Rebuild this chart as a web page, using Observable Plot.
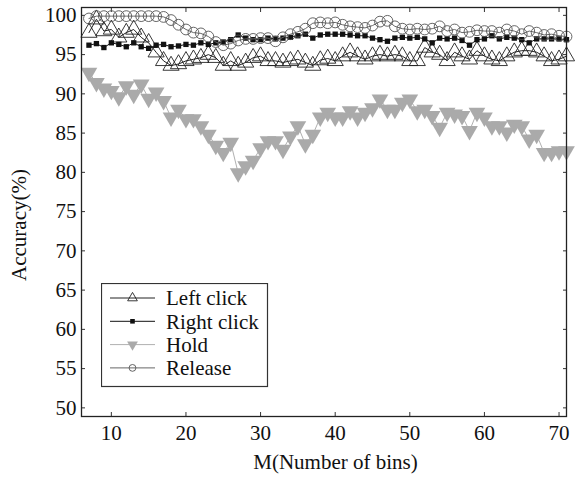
<!DOCTYPE html>
<html><head><meta charset="utf-8">
<script src="https://cdn.jsdelivr.net/npm/d3@7"></script>
<script src="https://cdn.jsdelivr.net/npm/@observablehq/plot@0.6"></script>
<style>
body{margin:0;background:#fff;}
#wrap{position:relative;width:584px;height:477px;font-family:'Liberation Serif','DejaVu Serif',serif;}
#wrap svg text{font-family:'Liberation Serif','DejaVu Serif',serif !important;}
#legend{position:absolute;left:101px;top:283px;}
</style>
</head><body><div id="wrap"></div>
<script>
const bins = [7,8,9,10,11,12,13,14,15,16,17,18,19,20,21,22,23,24,25,26,27,28,29,30,31,32,33,34,35,36,37,38,39,40,41,42,43,44,45,46,47,48,49,50,51,52,53,54,55,56,57,58,59,60,61,62,63,64,65,66,67,68,69,70,71];
const leftClick = [97.8,99.5,98.0,98.2,97.2,97.8,98.2,97.2,96.5,95.3,94.2,93.6,93.8,94.2,94.4,94.6,95.0,94.6,93.6,94.2,93.6,94.0,94.6,94.8,94.2,94.2,94.0,94.2,94.4,94.0,93.6,94.3,94.5,94.2,94.8,95.3,94.8,94.4,94.8,95.0,94.8,95.0,94.8,94.2,94.2,95.9,95.3,95.0,94.2,95.3,94.8,94.4,95.5,94.8,94.4,94.2,94.8,95.3,95.5,95.5,95.3,94.8,94.2,94.4,94.8];
const rightClick = [96.2,96.4,95.9,96.5,96.3,96.0,96.5,96.0,95.8,96.2,96.3,96.0,96.1,96.3,96.2,96.5,96.3,96.5,96.6,96.9,97.5,97.1,96.9,96.9,97.1,97.0,97.1,97.2,97.4,97.6,97.1,97.5,97.6,97.6,97.6,97.5,97.4,97.4,97.1,96.9,96.7,97.1,97.2,97.1,97.2,97.0,96.5,97.1,97.0,97.1,96.8,96.2,96.9,97.0,97.4,97.0,97.2,97.1,96.9,96.5,97.0,97.0,97.0,97.0,96.9];
const hold = [92.7,91.4,90.7,90.4,89.6,91.0,89.9,91.2,89.4,90.2,89.1,87.0,88.0,86.8,86.8,85.9,84.8,83.4,82.5,83.8,79.9,80.8,81.5,83.1,84.0,84.0,82.9,84.6,85.9,83.6,84.8,87.0,87.6,87.0,87.0,87.8,87.0,87.6,88.2,89.3,88.0,88.0,88.9,89.3,87.8,88.0,87.2,85.7,87.6,87.4,87.2,85.3,87.6,87.0,85.9,85.9,85.1,86.1,85.9,84.2,84.8,82.5,82.5,82.7,82.7];
const release = [99.6,99.9,99.9,99.9,99.9,99.9,99.9,99.9,99.9,99.9,99.8,99.4,98.8,98.2,97.8,97.7,97.3,96.6,96.2,96.4,96.8,97.0,97.0,97.1,97.1,96.7,97.2,97.6,97.9,98.3,99.0,99.1,99.0,99.1,98.8,98.6,98.5,98.4,98.7,99.2,99.3,98.6,98.3,98.2,98.3,98.2,98.3,98.6,98.0,98.2,97.8,97.9,98.1,98.0,98.0,97.8,98.2,98.0,97.6,98.0,97.8,97.5,97.6,97.4,97.3];
const seriesNames = ["Left click","Right click","Hold","Release"];
const xTicks = [10,20,30,40,50,60,70];
const yTicks = [50,55,60,65,70,75,80,85,90,95,100];
const xLabel = "M(Number of bins)";
const yLabel = "Accuracy(%)";
const FONT = "'Liberation Serif','DejaVu Serif',serif";

const styles = {
  "Left click": {line:"#222", symbol:"triangle", rotate:0, fill:"none", stroke:"#222", r:6, lr:3.6},
  "Right click": {line:"#111", symbol:"square", rotate:0, fill:"#111", stroke:"none", r:3, lr:2.6},
  "Hold": {line:"#b0b0b0", symbol:"triangle", rotate:180, fill:"#aaaaaa", stroke:"none", r:6.2, lr:4},
  "Release": {line:"#666", symbol:"circle", rotate:0, fill:"none", stroke:"#555", r:5.4, lr:3.4}
};
const values = {"Left click":leftClick,"Right click":rightClick,"Hold":hold,"Release":release};
const data = [];
for (const s of seriesNames) values[s].forEach((v,i)=>data.push({series:s, M:bins[i], acc:v}));

const marks = [];
for (const s of ["Hold","Left click","Right click","Release"]) {
  const st = styles[s];
  const d = data.filter(e=>e.series===s);
  marks.push(Plot.line(d,{x:"M",y:"acc",stroke:st.line,strokeWidth:1}));
  marks.push(Plot.dot(d,{x:"M",y:"acc",symbol:st.symbol,rotate:st.rotate,r:st.r,fill:st.fill,stroke:st.stroke,strokeWidth:0.9}));
}

const plot = Plot.plot({
  width:584, height:477,
  marginLeft:81, marginRight:18, marginTop:7, marginBottom:61,
  style:{fontFamily:FONT, fontSize:"21px", color:"#111", background:"#fff"},
  x:{domain:[6,71]},
  y:{domain:[48.9,101]},
  marks:[
    Plot.axisX({ticks:xTicks, tickSize:0, tickPadding:9, label:null, fontSize:21}),
    Plot.axisX({ticks:xTicks, tickSize:-4, tickFormat:()=>"", label:null, stroke:"#333"}),
    Plot.axisX({ticks:xTicks, anchor:"top", tickSize:-4, tickFormat:()=>"", label:null, stroke:"#333"}),
    Plot.axisY({ticks:yTicks, tickSize:0, tickPadding:5, label:null, fontSize:21}),
    Plot.axisY({ticks:yTicks, tickSize:-4, tickFormat:()=>"", label:null, stroke:"#333"}),
    Plot.axisY({ticks:yTicks, anchor:"right", tickSize:-4, tickFormat:()=>"", label:null, stroke:"#333"}),
    ...marks,
    Plot.frame({stroke:"#222", strokeWidth:1.3})
  ]
});
const wrap = document.getElementById("wrap");
wrap.appendChild(plot);

// axis titles
const svg = d3.select(plot);
svg.append("text").attr("x",(81+566)/2+12).attr("y",469).attr("text-anchor","middle")
  .attr("font-size",21).attr("font-family",FONT).attr("fill","#111").text(xLabel);
svg.append("text").attr("transform","translate(26,225) rotate(-90)").attr("text-anchor","middle")
  .attr("font-size",21).attr("font-family",FONT).attr("fill","#111").text(yLabel);

// legend
const lg = d3.select(wrap).append("svg").attr("id","legend").attr("width",168).attr("height",105);
lg.append("rect").attr("x",0.5).attr("y",0.5).attr("width",166).attr("height",103).attr("fill","#fff").attr("stroke","#333").attr("stroke-width",1.2);
seriesNames.forEach((s,i)=>{
  const st = styles[s];
  const cy = 15 + i*23.3;
  lg.append("line").attr("x1",9).attr("x2",54).attr("y1",cy).attr("y2",cy).attr("stroke",st.line).attr("stroke-width",1);
  const sym = st.symbol==="triangle"?d3.symbolTriangle:st.symbol==="square"?d3.symbolSquare:d3.symbolCircle;
  lg.append("path").attr("d",d3.symbol(sym, Math.PI*st.lr*st.lr)())
    .attr("transform",`translate(31.5,${cy}) rotate(${st.rotate})`)
    .attr("fill",st.fill).attr("stroke",st.stroke).attr("stroke-width",0.9);
  lg.append("text").attr("x",65).attr("y",cy).attr("dy","0.35em").attr("font-size",21)
    .attr("font-family",FONT).attr("fill","#111").text(s);
});
</script></body></html>
